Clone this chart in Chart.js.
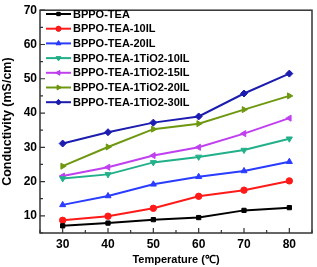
<!DOCTYPE html>
<html><head><meta charset="utf-8">
<script src="https://cdn.jsdelivr.net/npm/chart.js@4/dist/chart.umd.min.js"></script>
<style>html,body{margin:0;padding:0;background:#fff}#wrap{width:317px;height:267px}</style>
</head><body><div id="wrap"><canvas id="c" width="317" height="267"></canvas></div>
<script>
const temperatures = [30, 40, 50, 60, 70, 80];
const seriesNames = ["BPPO-TEA","BPPO-TEA-10IL","BPPO-TEA-20IL","BPPO-TEA-1TiO2-10IL","BPPO-TEA-1TiO2-15IL","BPPO-TEA-1TiO2-20IL","BPPO-TEA-1TiO2-30IL"];
const bppoTea = [7.1, 7.9, 8.9, 9.5, 11.6, 12.4];
const tea10IL = [8.7, 9.9, 12.2, 15.7, 17.5, 20.2];
const tea20IL = [13.2, 15.8, 19.2, 21.4, 23.1, 25.8];
const tio2_10IL = [20.9, 22.1, 25.6, 27.2, 29.2, 32.5];
const tio2_15IL = [21.6, 24.2, 27.6, 30.0, 34.0, 38.5];
const tio2_20IL = [24.5, 30.1, 35.3, 36.9, 41.0, 45.0];
const tio2_30IL = [31.1, 34.4, 37.2, 39.0, 45.7, 51.5];
const yTicks = [10, 20, 30, 40, 50, 60, 70];
const xTicks = [30, 40, 50, 60, 70, 80];

const values = [bppoTea, tea10IL, tea20IL, tio2_10IL, tio2_15IL, tio2_20IL, tio2_30IL];
const colors = ["#000000","#ff1a1a","#2a3cff","#22b08a","#c040f0","#6e9810","#1c1cb0"];
const styles = ["rect","circle","triangle","triangle","triangle","triangle","rectRot"];
const rots = [0,0,0,180,-90,90,0];
const radii = [3,3.2,3.5,3.5,3.5,3.5,3.5];

const datasets = values.map((v,i)=>({
  label: seriesNames[i],
  data: temperatures.map((t,j)=>({x:t,y:v[j]})),
  borderColor: colors[i], backgroundColor: colors[i],
  borderWidth: 2, pointStyle: styles[i], pointRotation: rots[i],
  pointRadius: radii[i], pointBorderWidth: 1, tension: 0
}));

const framePlugin = {
  id:'frame',
  afterDatasetsDraw(chart){
    const ctx = chart.ctx, a = chart.chartArea;
    const xs = chart.scales.x, ys = chart.scales.y;
    ctx.save();
    ctx.strokeStyle = '#333'; ctx.lineWidth = 1.5;
    ctx.strokeRect(a.left, a.top, a.right-a.left, a.bottom-a.top);
    ctx.lineWidth = 1.2;
    ctx.beginPath();
    for (let v=25; v<=85; v+=5){
      const px = xs.getPixelForValue(v);
      const len = (v%10===0)?5:3;
      ctx.moveTo(px, a.bottom); ctx.lineTo(px, a.bottom-len);
    }
    for (let v=5; v<=70; v+=5){
      const py = ys.getPixelForValue(v);
      const len = (v%10===0)?5:3;
      ctx.moveTo(a.left, py); ctx.lineTo(a.left+len, py);
    }
    ctx.stroke();
    // legend
    ctx.font = 'bold 11px "Liberation Sans", Arial, sans-serif';
    ctx.textBaseline = 'middle';
    chart.data.datasets.forEach((d,i)=>{
      const y = 14 + i*14.7;
      ctx.strokeStyle = d.borderColor; ctx.lineWidth = 2;
      ctx.beginPath(); ctx.moveTo(46,y); ctx.lineTo(71,y); ctx.stroke();
      ctx.lineWidth = 1;
      Chart.helpers.drawPoint(ctx, {pointStyle:d.pointStyle, rotation:d.pointRotation, radius:d.pointRadius*0.8, borderWidth:1}, 58.5, y);
      ctx.fillStyle = d.borderColor;
      ctx.fill();
      ctx.fillStyle = '#000';
      ctx.fillText(d.label, 73, y+0.5);
    });
    ctx.restore();
  }
};

new Chart(document.getElementById('c'), {
  type:'line',
  data:{datasets},
  options:{
    responsive:false, animation:false, devicePixelRatio:1,
    layout:{padding:{top:6,right:3,left:0,bottom:0}},
    plugins:{legend:{display:false}, tooltip:{enabled:false}},
    scales:{
      x:{type:'linear', min:25, max:85,
        afterBuildTicks(s){ s.ticks = xTicks.map(v=>({value:v})); },
        afterFit(s){ s.height = 34; },
        grid:{display:false, drawTicks:false}, border:{display:false},
        ticks:{color:'#000', padding:4, font:{family:'"Liberation Sans", Arial', size:12, weight:'bold'}},
        title:{display:true, text:'Temperature (℃)', color:'#000', padding:{top:0,bottom:0}, font:{family:'"Liberation Sans", Arial', size:11, weight:'bold'}}
      },
      y:{min:5, max:70,
        afterBuildTicks(s){ s.ticks = yTicks.map(v=>({value:v})); },
        afterFit(s){ s.width = 40; },
        grid:{display:false, drawTicks:false}, border:{display:false},
        ticks:{color:'#000', padding:3, font:{family:'"Liberation Sans", Arial', size:12, weight:'bold'}},
        title:{display:true, text:'Conductivity (mS/cm)', color:'#000', padding:{top:0,bottom:0}, font:{family:'"Liberation Sans", Arial', size:12.5, weight:'bold'}}
      }
    }
  },
  plugins:[framePlugin]
});
</script></body></html>
